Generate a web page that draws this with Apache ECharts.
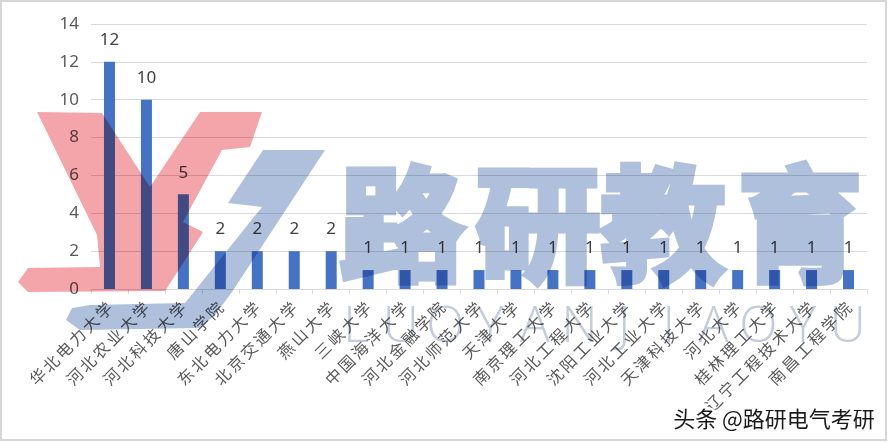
<!DOCTYPE html>
<html>
<head>
<meta charset="utf-8">
<script src="https://cdn.jsdelivr.net/npm/echarts@6/dist/echarts.min.js"></script>
<style>
html,body{margin:0;padding:0;background:#fff;}
#c{width:892px;height:443px;}
</style>
</head>
<body>
<div id="c"></div>
<script>
const categories = ['华北电力大学','河北农业大学','河北科技大学','唐山学院','东北电力大学','北京交通大学','燕山大学','三峡大学','中国海洋大学','河北金融学院','河北师范大学','天津大学','南京理工大学','河北工程大学','沈阳工业大学','河北工业大学','天津科技大学','河北大学','桂林理工大学','辽宁工程技术大学','南昌工程学院'];
const values = [12,10,5,2,2,2,2,1,1,1,1,1,1,1,1,1,1,1,1,1,1];
const yTicks = [0,2,4,6,8,10,12,14];
const watermarkChars = ['路','研','教','育'];
const watermarkLetters = 'LUOYANJIAOYU'.split('');
const credit = '头条 @路研电气考研';

const FONT = '"Noto Sans CJK SC", "Microsoft YaHei", sans-serif';
const chart = echarts.init(document.getElementById('c'), null, {renderer:'canvas'});

const wmBlue = '#AFC0DD';
const wmRed = '#F3A5AA';
const WM = 1;

const graphics = [
  {type:'rect', z:-10, silent:true, shape:{x:1,y:1,width:885,height:439}, style:{fill:'none', stroke:'#d6d6d6', lineWidth:2}},
  {type:'polygon', zlevel:WM, z:1, silent:true, shape:{points:[[37,112],[102,113],[150,187],[200,112],[262,112],[250,147],[222,150],[183,222],[203,232],[180,268],[165,291],[28,292],[18,282],[28,268],[100,267],[97,235]]}, style:{fill:wmRed}},
  {type:'polygon', zlevel:WM, z:2, silent:true, shape:{points:[[263,150],[325,150],[232,292],[215,315],[200,328],[80,330],[66,320],[72,308],[90,305],[185,303],[262,207],[228,203]]}, style:{fill:wmBlue}}
];
const charX = [402,538,663,800];
watermarkChars.forEach((ch,i)=>{
  graphics.push({type:'text', zlevel:WM, z:3, silent:true, style:{text:ch, x:charX[i], y:224, fontSize:124, fontWeight:'bold', fontFamily:FONT, fill:wmBlue, stroke:wmBlue, lineWidth:7, lineJoin:'round', align:'center', verticalAlign:'middle'}});
});
watermarkLetters.forEach((ch,i)=>{
  graphics.push({type:'text', zlevel:WM, z:3, silent:true, style:{text:ch, x:356+i*44.7, y:328, fontSize:50, fontWeight:300, fontFamily:'"Open Sans", sans-serif', fill:'#C3CCDC', align:'center', verticalAlign:'middle'}});
});
graphics.push({type:'text', zlevel:2, z:10, silent:true, style:{text:credit, x:774, y:419, fontSize:22, fontFamily:FONT, fill:'#1a1a1a', stroke:'#ffffff', lineWidth:5, align:'center', verticalAlign:'middle'}});

chart.setOption({
  animation:false,
  backgroundColor:'#ffffff',
  grid:{left:91, right:25, top:24, bottom:154, containLabel:false},
  xAxis:{
    type:'category',
    data:categories,
    axisLine:{show:true, lineStyle:{color:'#d9d9d9', width:1}},
    axisTick:{show:true, alignWithLabel:false, length:5, lineStyle:{color:'#d9d9d9'}},
    axisLabel:{interval:0, rotate:45, margin:16, padding:[22,0,0,0], color:'#595959', fontSize:16, fontFamily:FONT,
      formatter:v=>v.split('').join('\u2006')}
  },
  yAxis:{
    type:'value', min:yTicks[0], max:yTicks[yTicks.length-1], interval:2,
    axisLine:{show:false}, axisTick:{show:false},
    axisLabel:{color:'#595959', fontSize:17, margin:12, fontFamily:'"Noto Sans", sans-serif'},
    splitLine:{lineStyle:{color:'#d9d9d9', width:1}}
  },
  series:[{
    type:'bar', data:values, barWidth:11,
    itemStyle:{color:'#4472C4'},
    label:{show:true, position:'top', distance:13, color:'#404040', fontSize:17, fontFamily:'"Noto Sans", sans-serif'}
  }],
  graphic:{elements:graphics}
});

function applyBlend(){
  try {
    const painter = chart.getZr().painter;
    const layer = painter.getLayer(WM);
    if (layer && layer.dom) layer.dom.style.mixBlendMode = 'multiply';
  } catch(e) {}
}
applyBlend();
chart.on('finished', applyBlend);
</script>
</body>
</html>
